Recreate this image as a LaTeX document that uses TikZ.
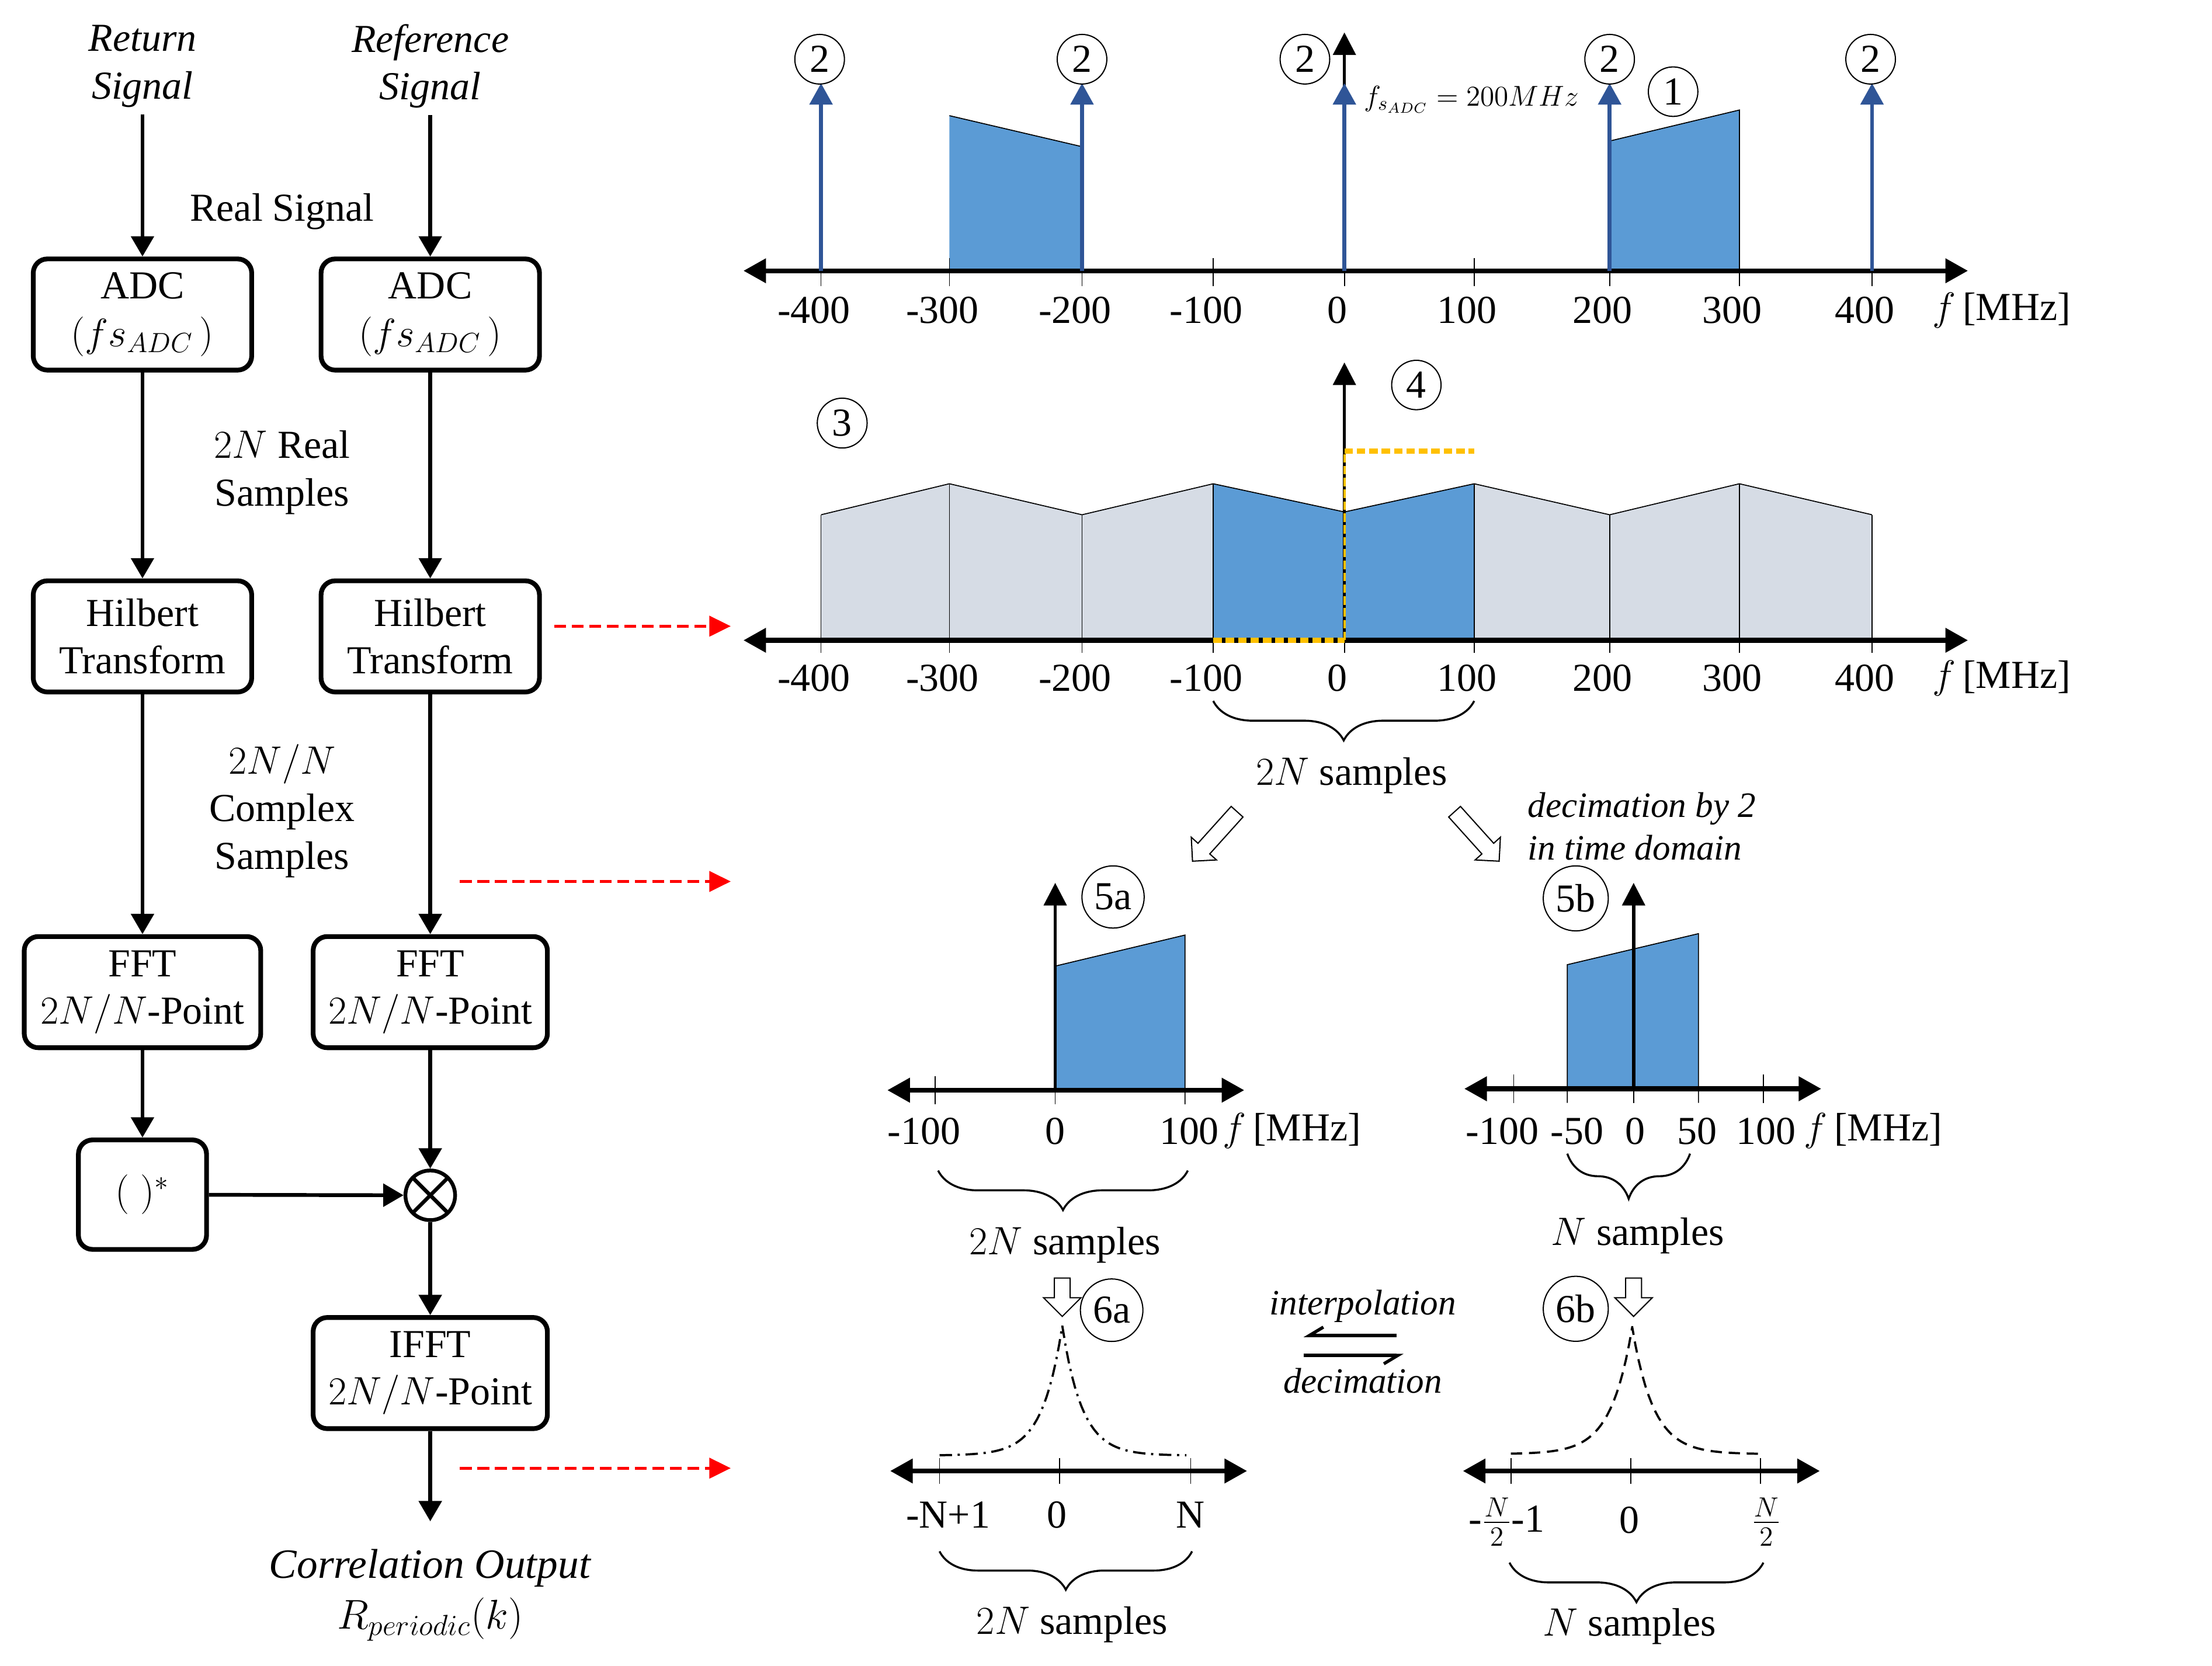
\RequirePackage{fix-cm}
\documentclass[tikz,border=0pt]{standalone}
\usepackage{fontspec}
\setmainfont{Liberation Serif}
\usetikzlibrary{positioning,arrows.meta,shapes.arrows,decorations.pathreplacing}

\definecolor{specblue}{HTML}{5B9BD5}
\definecolor{deltablue}{HTML}{2F5597}
\definecolor{imagegray}{HTML}{D6DCE5}
\definecolor{filtyellow}{HTML}{FFC000}

\begin{document}
\begin{tikzpicture}[
    x=0.025cm, y=0.025cm,
    font=\fontsize{20}{24}\selectfont,
    box/.style={draw, line width=2.4pt, rounded corners=0.25cm, align=center, minimum height=1.97cm},
    mixer/.style={draw, circle, line width=1.9pt, minimum size=0.88cm, inner sep=0pt,
        path picture={\draw[line width=1.9pt] (path picture bounding box.north west) -- (path picture bounding box.south east)
            (path picture bounding box.north east) -- (path picture bounding box.south west);}},
    flow/.style={line width=1.9pt, -{Triangle[length=0.36cm, width=0.4cm]}},
    jump/.style={red, line width=1.5pt, dash pattern=on 0.21cm off 0.1cm, -{Triangle[length=0.38cm, width=0.36cm]}},
    faxis/.style={line width=2.4pt, {Triangle[length=0.4cm, width=0.42cm]}-{Triangle[length=0.4cm, width=0.42cm]}},
    vaxis/.style={line width=1.6pt, -{Triangle[length=0.4cm, width=0.4cm]}},
    delta/.style={deltablue, line width=2pt, -{Triangle[length=0.38cm, width=0.4cm]}},
    tickln/.style={line width=0.5pt},
    band/.style={line width=0.5pt},
    num/.style={circle, draw, line width=0.6pt, inner sep=3pt},
    curly/.style={decorate, decoration={brace, mirror, amplitude=#1}, line width=1pt},
    curly/.default=0.7cm,
    hollow/.style={single arrow, draw, fill=white, line width=0.6pt, inner sep=0.13cm},
    harp/.style={line width=1.6pt, -{Straight Barb[harpoon, swap, length=0.25cm, width=0.3cm]}},
    remark/.style={font=\fontsize{18}{21.5}\selectfont\itshape}
]
\useasboundingbox (0,0) rectangle (1568,-1181);

% 左侧流程
\node[align=center, font=\fontsize{20}{24}\selectfont\itshape] (ret) at (101,-47) {Return\\Signal};
\node[align=center, font=\fontsize{20}{24}\selectfont\itshape] (ref) at (305,-47) {Reference\\Signal};

\node[box, minimum width=3.87cm] (adc1) at (101,-223) {ADC\\$(f s_{ADC}\,)$};
\node[box, minimum width=3.87cm] (adc2) at (305,-223) {ADC\\$(f s_{ADC}\,)$};
\node[box, minimum width=3.87cm, below=3.65cm of adc1] (hil1) {Hilbert\\Transform};
\node[box, minimum width=3.87cm, below=3.65cm of adc2] (hil2) {Hilbert\\Transform};
\node[box, minimum width=4.19cm, below=4.25cm of hil1] (fft1) {FFT\\$2N/N$-Point};
\node[box, minimum width=4.15cm, below=4.25cm of hil2] (fft2) {FFT\\$2N/N$-Point};
\node[box, minimum width=2.27cm, minimum height=1.94cm, below=1.55cm of fft1] (conj) {$(\;)^{*}$};
\node[mixer, below=2.1cm of fft2] (mult) {};
\node[box, minimum width=4.15cm, below=1.65cm of mult] (ifft) {IFFT\\$2N/N$-Point};
\coordinate[below=1.6cm of ifft] (out);

\node (real) at (200,-150) {Real Signal};
\node[align=center] (rsamp) at (200,-335) {$2N$ Real\\Samples};
\node[align=center] (csamp) at (200,-575) {$2N/N$\\Complex\\Samples};
\node[align=center, font=\fontsize{21}{25.5}\selectfont] (corr) at (305,-1131) {\textit{Correlation Output}\\$R_{periodic}(k)$};

% 连接线
\draw[flow] (ret) -- (adc1);
\draw[flow] (ref) -- (adc2);
\draw[flow] (adc1) -- (hil1);
\draw[flow] (adc2) -- (hil2);
\draw[flow] (hil1) -- (fft1);
\draw[flow] (hil2) -- (fft2);
\draw[flow] (fft1) -- (conj);
\draw[flow] (fft2) -- (mult);
\draw[flow] (conj) -- (mult);
\draw[flow] (mult) -- (ifft);
\draw[flow] (ifft) -- (out);

% 红色虚线箭头
\coordinate (j1a) at (393,-444);  \coordinate (j1b) at (518,-444);
\coordinate (j2a) at (326,-625);  \coordinate (j2b) at (518,-625);
\coordinate (j3a) at (326,-1041); \coordinate (j3b) at (518,-1041);
\draw[jump] (j1a) -- (j1b);
\draw[jump] (j2a) -- (j2b);
\draw[jump] (j3a) -- (j3b);

% 实信号频谱
\fill[specblue] (673,-192) -- (673,-82) -- (767,-104) -- (767,-192) -- cycle;
\fill[specblue] (1141,-192) -- (1141,-100) -- (1233,-78) -- (1233,-192) -- cycle;
\draw[band] (673,-82) -- (767,-104);
\draw[band] (1141,-100) -- (1233,-78) -- (1233,-192);
\draw[faxis] (527,-192) -- (1395,-192);
\foreach \x/\lab [count=\i] in {582/-400,673/-300,767/-200,860/-100,953/0,1045/100,1141/200,1233/300,1327/400}{
  \draw[tickln] (\x,-183) -- (\x,-203);
  \node (fa\i) at (\x-5,-220) {\lab};
}
\node[anchor=west] (fu1) at (1365,-220) {$f$\,[MHz]};
\draw[vaxis] (953,-192) -- (953,-23);
\foreach \x in {582,767,953,1141,1327}
  \draw[delta] (\x,-192) -- (\x,-59);
\foreach \x [count=\i] in {581,767,925,1141,1326}
  \node[num] (two\i) at (\x,-42) {2};
\node[num] (one) at (1186,-65) {1};
\node[anchor=base west, font=\fontsize{14.5}{17}\selectfont] (fsadc) at (962,-75) {$f_{s_{ADC}} = 200MHz$};

% 希尔伯特变换后的频谱
\fill[imagegray] (582,-454) -- (582,-365) -- (673,-343) -- (767,-365) -- (860,-343) -- (860,-454) -- cycle;
\fill[specblue] (860,-454) -- (860,-343) -- (953,-363) -- (1045,-343) -- (1045,-454) -- cycle;
\fill[imagegray] (1045,-454) -- (1045,-343) -- (1141,-365) -- (1233,-343) -- (1327,-365) -- (1327,-454) -- cycle;
\draw[band] (582,-365) -- (673,-343) -- (767,-365) -- (860,-343) -- (953,-363) -- (1045,-343) -- (1141,-365) -- (1233,-343) -- (1327,-365);
\foreach \x/\h in {582/365,673/343,767/365,860/343,1045/343,1141/365,1233/343,1327/365}
  \draw[band] (\x,-463) -- (\x,-\h);
\draw[tickln] (953,-446) -- (953,-463);
\draw[faxis] (527,-454) -- (1395,-454);
\draw[vaxis] (953,-454) -- (953,-257);
\draw[filtyellow, line width=1.2pt, dash pattern=on 0.15cm off 0.06cm] (953,-454) -- (953,-320);
\draw[filtyellow, line width=2.6pt, dash pattern=on 0.15cm off 0.07cm] (860,-454) -- (953,-454) (953,-320) -- (1045,-320);
\foreach \x/\lab [count=\i] in {582/-400,673/-300,767/-200,860/-100,953/0,1045/100,1141/200,1233/300,1327/400}
  \node (fb\i) at (\x-5,-481) {\lab};
\node[anchor=west] (fu2) at (1365,-481) {$f$\,[MHz]};
\node[num] (three) at (597,-300) {3};
\node[num] (four) at (1004,-273) {4};
\draw[curly] (860,-497) -- (1045,-497);
\node (s2n) at (958,-550) {$2N$ samples};

\node[hollow, minimum height=1.18cm, single arrow head extend=0.16cm, rotate=228] (to5a) at (863,-591) {};
\node[hollow, minimum height=1.18cm, single arrow head extend=0.16cm, rotate=-48] (to5b) at (1045,-591) {};
\node[remark, anchor=west, align=left] (dec2) at (1078,-586) {decimation by 2\\in time domain};

% 5a
\fill[specblue] (748,-773) -- (748,-685) -- (840,-663) -- (840,-773) -- cycle;
\draw[band] (748,-685) -- (840,-663) -- (840,-783);
\draw[faxis] (629,-773) -- (882,-773);
\foreach \x in {663,748} \draw[tickln] (\x,-763) -- (\x,-783);
\draw[vaxis] (748,-773) -- (748,-626);
\node[num] (n5a) at (789,-636) {5a};
\foreach \x/\lab [count=\i] in {655/-100,748/0,843/100} \node (fc\i) at (\x,-802) {\lab};
\node[anchor=west] (fu3) at (862,-802) {$f$\,[MHz]};
\draw[curly] (665,-830) -- (842,-830);
\node (s5a) at (755,-883) {$2N$ samples};

% 5b
\fill[specblue] (1111,-772) -- (1111,-684) -- (1204,-662) -- (1204,-772) -- cycle;
\draw[band] (1111,-782) -- (1111,-684) -- (1204,-662) -- (1204,-782);
\draw[faxis] (1038,-772) -- (1291,-772);
\foreach \x in {1073,1158,1250} \draw[tickln] (\x,-762) -- (\x,-782);
\draw[vaxis] (1158,-772) -- (1158,-626);
\node[num] (n5b) at (1117,-637) {5b};
\foreach \x/\lab [count=\i] in {1065/-100,1118/-50,1159/0,1203/50,1252/100} \node (fd\i) at (\x,-802) {\lab};
\node[anchor=west] (fu4) at (1274,-802) {$f$\,[MHz]};
\draw[curly=0.8cm] (1111,-818) -- (1198,-818);
\node (s5b) at (1161,-876) {$N$ samples};

% 6a
\node[hollow, minimum height=0.68cm, single arrow head extend=0.19cm, rotate=-90] (to6a) at (753,-917) {};
\node[num] (n6a) at (788,-929) {6a};
\draw[faxis] (631,-1043) -- (884,-1043);
\foreach \x in {666,751,844} \draw[tickln] (\x,-1034) -- (\x,-1052);
\draw[line width=1.1pt, dash pattern=on 0.22cm off 0.1cm on 0.04cm off 0.1cm]
  plot[domain=666:753, samples=40] (\x, {-1032+92*exp(-abs(\x-753)/14)})
  -- plot[domain=753:841, samples=40] (\x, {-1032+92*exp(-abs(\x-753)/14)});
\foreach \x/\lab [count=\i] in {672/-N+1,749/0,844/N} \node (fe\i) at (\x,-1074) {\lab};
\draw[curly=0.68cm] (666,-1100) -- (845,-1100);
\node (s6a) at (760,-1152) {$2N$ samples};

% 6b
\node[hollow, minimum height=0.68cm, single arrow head extend=0.19cm, rotate=-90] (to6b) at (1158,-917) {};
\node[num] (n6b) at (1117,-928) {6b};
\draw[faxis] (1037,-1043) -- (1290,-1043);
\foreach \x in {1071,1156,1248} \draw[tickln] (\x,-1034) -- (\x,-1052);
\draw[line width=1.1pt, dash pattern=on 0.2cm off 0.12cm]
  plot[domain=1071:1157, samples=40] (\x, {-1031+90*exp(-abs(\x-1157)/15)})
  -- plot[domain=1157:1247, samples=40] (\x, {-1031+90*exp(-abs(\x-1157)/15)});
\node (ff1) at (1068,-1079) {-$\frac{N}{2}$-1};
\node (ff2) at (1155,-1078) {0};
\node (ff3) at (1252,-1079) {$\frac{N}{2}$};
\draw[curly] (1070,-1108) -- (1250,-1108);
\node (s6b) at (1155,-1153) {$N$ samples};

% 插值 / 抽取
\node[remark] (interp) at (966,-926) {interpolation};
\node[remark] (decim) at (966,-979) {decimation};
\coordinate (ha) at (990,-947); \coordinate (hb) at (924,-947);
\coordinate (hc) at (924,-961); \coordinate (hd) at (995,-961);
\draw[harp] (ha) -- (hb);
\draw[harp] (hc) -- (hd);

\end{tikzpicture}
\end{document}
